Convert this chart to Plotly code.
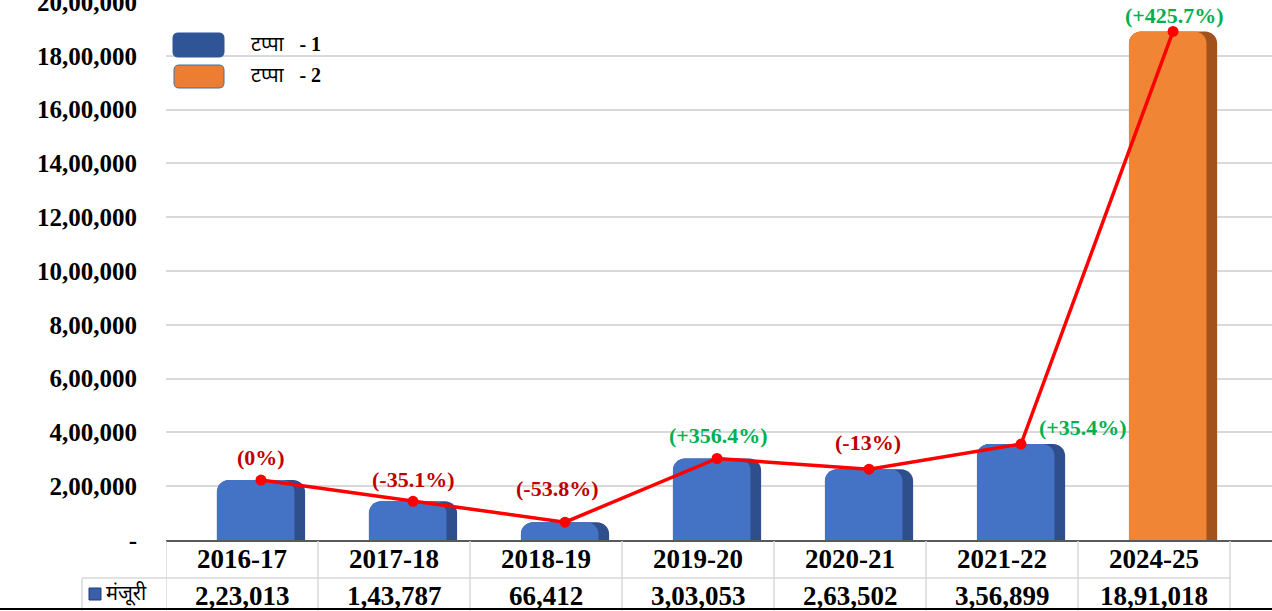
import plotly.graph_objects as go

# ---------------- data ----------------
years = ["2016-17", "2017-18", "2018-19", "2019-20", "2020-21", "2021-22", "2024-25"]
approvals = [223013, 143787, 66412, 303053, 263502, 356899, 1891018]
value_labels = ["2,23,013", "1,43,787", "66,412", "3,03,053", "2,63,502", "3,56,899", "18,91,018"]
phase = [1, 1, 1, 1, 1, 1, 2]
pct_labels = ["(0%)", "(-35.1%)", "(-53.8%)", "(+356.4%)", "(-13%)", "(+35.4%)", "(+425.7%)"]
y_ticks = [0, 200000, 400000, 600000, 800000, 1000000, 1200000, 1400000, 1600000, 1800000, 2000000]
y_tick_labels = ["-", "2,00,000", "4,00,000", "6,00,000", "8,00,000", "10,00,000",
                 "12,00,000", "14,00,000", "16,00,000", "18,00,000", "20,00,000"]
legend_labels = ["टप्पा", "टप्पा"]
legend_suffix = ["- 1", "- 2"]
row_label = "मंजूरी"

# ---------------- styling ----------------
W, H = 1272, 611
L, R, T, B = 166, 0, 2, 71
PW, PH = W - L - R, H - T - B
SERIF = "Liberation Serif, Times New Roman, serif"
DEVA = "Noto Sans Devanagari, Lohit Devanagari, Mangal, Noto Sans, sans-serif"

face = {1: "#4472C4", 2: "#F08536"}
side = {1: "#2E4F8C", 2: "#A4521C"}
legend_fill = {1: "#2F5597", 2: "#ED7D31"}


def px(x):
    return (x - L) / PW


def py(y):
    return (H - B - y) / PH


def rrect(x0, y0, x1, y1, r):
    X0, X1 = px(x0), px(x1)
    Y0, Y1 = py(y0), py(y1)
    rx, ry = r / PW, r / PH
    return (f"M {X0+rx},{Y0} L {X1-rx},{Y0} Q {X1},{Y0} {X1},{Y0-ry} "
            f"L {X1},{Y1+ry} Q {X1},{Y1} {X1-rx},{Y1} L {X0+rx},{Y1} "
            f"Q {X0},{Y1} {X0},{Y1+ry} L {X0},{Y0-ry} Q {X0},{Y0} {X0+rx},{Y0} Z")


fig = go.Figure()

# bar body (darker side)
fig.add_trace(go.Bar(
    x=years, y=approvals, width=0.58,
    marker=dict(color=[side[p] for p in phase], line=dict(width=0), cornerradius=12),
    hoverinfo="skip", showlegend=False))
# bar front face
fig.add_trace(go.Bar(
    x=years, y=approvals, width=0.51, offset=-0.29,
    marker=dict(color=[face[p] for p in phase], line=dict(width=0), cornerradius=12),
    showlegend=False))

# trend line
fig.add_trace(go.Scatter(
    x=years, y=approvals, mode="lines+markers",
    line=dict(color="#FF0000", width=3.5),
    marker=dict(color="#FF0000", size=11),
    showlegend=False))

# percent labels
label_shift = [(0, 23), (0, 22), (-8, 34), (1, 23), (-1, 27), (62, 17), (1, 16)]
for i, (yr, v, t) in enumerate(zip(years, approvals, pct_labels)):
    col = "#00B050" if t.startswith("(+") else "#C00000"
    fig.add_annotation(x=yr, y=v, text=t, showarrow=False,
                       xshift=label_shift[i][0], yshift=label_shift[i][1],
                       font=dict(family=SERIF, size=22, color=col, weight="bold"))

# table value row
for yr, t in zip(years, value_labels):
    fig.add_annotation(x=yr, y=py(596), yref="paper", text=t, showarrow=False,
                       xshift=-19, yanchor="middle",
                       font=dict(family=SERIF, size=27, color="black", weight="bold"))

shapes = []
grid_c = "#D9D9D9"
# table vertical lines
for i in range(len(years) + 1):
    shapes.append(dict(type="line", xref="x", yref="paper", x0=i - 0.625, x1=i - 0.625,
                       y0=py(541), y1=py(611), line=dict(color=grid_c, width=1.5)))
# row separator
shapes.append(dict(type="line", xref="paper", yref="paper", x0=px(82), x1=px(1230),
                   y0=py(578), y1=py(578), line=dict(color=grid_c, width=1.5)))
shapes.append(dict(type="line", xref="paper", yref="paper", x0=px(82), x1=px(82),
                   y0=py(578), y1=py(611), line=dict(color=grid_c, width=1.5)))
# bottom edge
shapes.append(dict(type="line", xref="paper", yref="paper", x0=px(0), x1=px(1272),
                   y0=py(609), y1=py(609), line=dict(color="#000000", width=2)))
# row key square
shapes.append(dict(type="rect", xref="paper", yref="paper", x0=px(89), x1=px(101),
                   y0=py(588), y1=py(600), fillcolor="#3A5FA8",
                   line=dict(color="#1F3D7A", width=1)))
# legend boxes
shapes.append(dict(type="path", xref="paper", yref="paper", path=rrect(173, 33, 224, 57, 5),
                   fillcolor=legend_fill[1], line=dict(color=legend_fill[1], width=1)))
shapes.append(dict(type="path", xref="paper", yref="paper", path=rrect(174, 65, 224, 88, 5),
                   fillcolor=legend_fill[2], line=dict(color="#41719C", width=1)))

fig.add_annotation(x=px(104), y=py(594), xref="paper", yref="paper", text=row_label,
                   showarrow=False, xanchor="left", yanchor="middle",
                   font=dict(family=DEVA, size=20, color="black"))
for k, yy in enumerate([46, 77]):
    fig.add_annotation(x=px(249), y=py(yy), xref="paper", yref="paper",
                       text=(f"{legend_labels[k]}   <span style='font-family:{SERIF};"
                             f"font-weight:bold'>{legend_suffix[k]}</span>"),
                       showarrow=False, xanchor="left", yanchor="middle",
                       font=dict(family=DEVA, size=20, color="black"))

fig.update_layout(
    width=W, height=H,
    margin=dict(l=L, r=R, t=T, b=B, autoexpand=False),
    paper_bgcolor="white", plot_bgcolor="white",
    barmode="overlay",
    shapes=shapes,
    xaxis=dict(type="category", range=[-0.625, 6.651], showgrid=False, automargin=False,
               showline=True, linecolor="#595959", linewidth=2,
               ticks="", ticklabelshift=-19, ticklabelstandoff=-6,
               tickfont=dict(family=SERIF, size=27, color="black", weight="bold"),
               fixedrange=True),
    yaxis=dict(range=[0, 2000500], tickvals=y_ticks, ticktext=y_tick_labels, automargin=False,
               showgrid=True, gridcolor=grid_c, gridwidth=1.5, zeroline=False,
               showline=False, ticks="", ticklabelstandoff=28, ticklabeloverflow="allow",
               tickfont=dict(family=SERIF, size=25, color="black", weight="bold"),
               fixedrange=True),
)

fig.write_html("out.html", config={"displayModeBar": False},
               post_script="document.body.style.margin='0';document.body.style.overflow='hidden';")
